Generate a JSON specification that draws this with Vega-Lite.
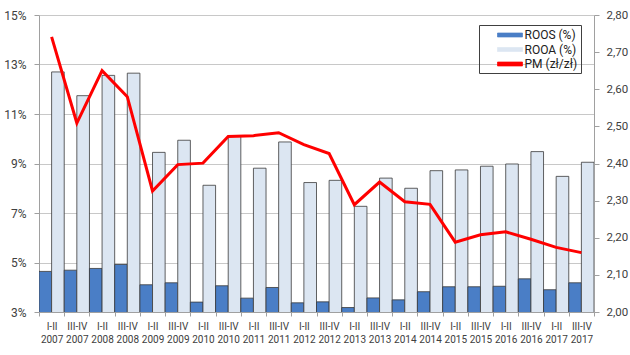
{
  "$schema": "https://vega.github.io/schema/vega-lite/v6.json",
  "width": 555,
  "height": 297,
  "autosize": {"type": "none"},
  "padding": {"left": 39, "top": 15, "right": 36, "bottom": 43},
  "background": "white",
  "config": {
    "font": "Roboto",
    "view": {"stroke": null},
    "axis": {
      "domainColor": "#A0A0A0",
      "tickColor": "#A0A0A0",
      "gridColor": "#C8C8C8",
      "labelColor": "#404040",
      "labelFont": "Roboto",
      "title": null
    },
    "legend": {"labelFont": "Roboto"}
  },
  "data": {
    "values": [
      {"period": "I-II 2007", "ROOS": 4.64, "ROOA": 12.70, "PM": 2.741},
      {"period": "III-IV 2007", "ROOS": 4.69, "ROOA": 11.74, "PM": 2.509},
      {"period": "I-II 2008", "ROOS": 4.76, "ROOA": 12.56, "PM": 2.650},
      {"period": "III-IV 2008", "ROOS": 4.92, "ROOA": 12.65, "PM": 2.580},
      {"period": "I-II 2009", "ROOS": 4.10, "ROOA": 9.45, "PM": 2.326},
      {"period": "III-IV 2009", "ROOS": 4.18, "ROOA": 9.94, "PM": 2.397},
      {"period": "I-II 2010", "ROOS": 3.40, "ROOA": 8.12, "PM": 2.401},
      {"period": "III-IV 2010", "ROOS": 4.06, "ROOA": 10.10, "PM": 2.473},
      {"period": "I-II 2011", "ROOS": 3.56, "ROOA": 8.81, "PM": 2.475},
      {"period": "III-IV 2011", "ROOS": 3.99, "ROOA": 9.87, "PM": 2.483},
      {"period": "I-II 2012", "ROOS": 3.37, "ROOA": 8.23, "PM": 2.451},
      {"period": "III-IV 2012", "ROOS": 3.41, "ROOA": 8.32, "PM": 2.427},
      {"period": "I-II 2013", "ROOS": 3.18, "ROOA": 7.27, "PM": 2.289},
      {"period": "III-IV 2013", "ROOS": 3.57, "ROOA": 8.41, "PM": 2.350},
      {"period": "I-II 2014", "ROOS": 3.49, "ROOA": 8.00, "PM": 2.297},
      {"period": "III-IV 2014", "ROOS": 3.82, "ROOA": 8.71, "PM": 2.290},
      {"period": "I-II 2015", "ROOS": 4.02, "ROOA": 8.74, "PM": 2.188},
      {"period": "III-IV 2015", "ROOS": 4.02, "ROOA": 8.89, "PM": 2.208},
      {"period": "I-II 2016", "ROOS": 4.04, "ROOA": 8.98, "PM": 2.216},
      {"period": "III-IV 2016", "ROOS": 4.34, "ROOA": 9.48, "PM": 2.196},
      {"period": "I-II 2017", "ROOS": 3.90, "ROOA": 8.48, "PM": 2.174},
      {"period": "III-IV 2017", "ROOS": 4.18, "ROOA": 9.05, "PM": 2.160}
    ]
  },
  "layer": [
    {
      "transform": [{"fold": ["ROOS", "ROOA"], "as": ["series", "value"]}],
      "mark": {"type": "bar", "stroke": "#3A3A3A", "strokeWidth": 0.8, "clip": true},
      "encoding": {
        "x": {
          "field": "period",
          "type": "nominal",
          "sort": null,
          "scale": {"paddingInner": 0, "paddingOuter": 0},
          "axis": {
            "labelExpr": "split(datum.label, ' ')",
            "labelAngle": 0,
            "labelFontSize": 10,
            "labelLineHeight": 13.5,
            "labelPadding": 5,
            "labelOverlap": false,
            "tickSize": 4,
            "tickBand": "extent",
            "grid": false
          }
        },
        "xOffset": {
          "field": "series",
          "sort": ["ROOS", "ROOA"],
          "scale": {"paddingInner": 0, "paddingOuter": 0}
        },
        "y": {
          "field": "value",
          "type": "quantitative",
          "scale": {"domain": [3, 15], "zero": false, "nice": false},
          "axis": {
            "values": [3, 5, 7, 9, 11, 13, 15],
            "labelExpr": "datum.value + '%'",
            "labelFontSize": 12,
            "tickSize": 5,
            "labelPadding": 8,
            "grid": true
          }
        },
        "color": {
          "field": "series",
          "type": "nominal",
          "scale": {"domain": ["ROOS", "ROOA", "PM"], "range": ["#4A7EC6", "#DCE6F2", "#FF0000"]},
          "legend": {
            "orient": "none",
            "legendX": 440,
            "legendY": 10,
            "title": null,
            "strokeColor": "#404040",
            "padding": 3,
            "labelFontSize": 12,
            "labelColor": "#202020",
            "labelOffset": 7.5,
            "symbolOffset": 21,
            "symbolSize": 156,
            "symbolType": "M-2,-0.32H2V0.32H-2Z",
            "symbolStrokeColor": "#505050",
            "symbolStrokeWidth": 0.7,
            "rowPadding": 1.5,
            "labelExpr": "datum.label == 'PM' ? 'PM (zł/zł)\u00a0\u00a0\u00a0\u00a0' : datum.label + ' (%)'"
          }
        }
      }
    },
    {
      "mark": {"type": "line", "strokeWidth": 3, "color": "#FF0000"},
      "encoding": {
        "x": {"field": "period", "type": "nominal", "sort": null},
        "y": {
          "field": "PM",
          "type": "quantitative",
          "scale": {"domain": [2, 2.8], "zero": false, "nice": false},
          "axis": {
            "orient": "right",
            "values": [2, 2.1, 2.2, 2.3, 2.4, 2.5, 2.6, 2.7, 2.8],
            "labelExpr": "replace(format(datum.value, '.2f'), '.', ',')",
            "labelFontSize": 11.5,
            "tickSize": 5,
            "labelPadding": 7,
            "grid": false
          }
        },
        "color": {"datum": "PM"}
      }
    }
  ],
  "resolve": {"scale": {"y": "independent"}}
}
